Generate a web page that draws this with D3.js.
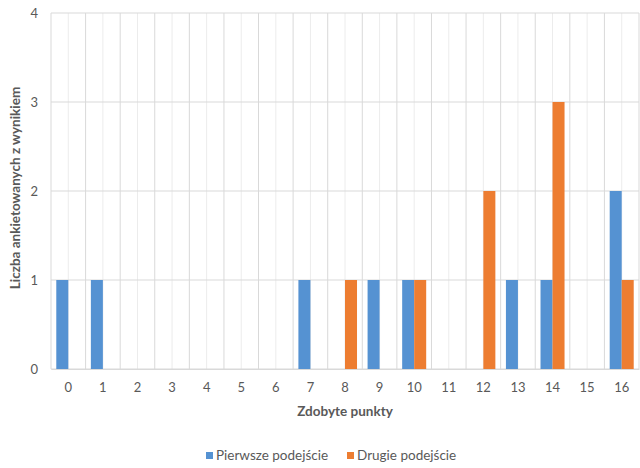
<!DOCTYPE html>
<html>
<head>
<meta charset="utf-8">
<script src="https://cdn.jsdelivr.net/npm/d3@7"></script>
<style>
  body { margin: 0; background: #fff; }
  svg { display: block; font-family: Lato, "Open Sans", sans-serif; }
</style>
</head>
<body>
<svg id="chart" width="640" height="468"></svg>
<script>
// chart data
const categories = ["0","1","2","3","4","5","6","7","8","9","10","11","12","13","14","15","16"];
const seriesNames = ["Pierwsze podejście", "Drugie podejście"];
const firstTry  = [1,1,0,0,0,0,0,1,0,1,1,0,0,1,1,0,2];
const secondTry = [0,0,0,0,0,0,0,0,1,0,1,0,2,0,3,0,1];
const yTicks = [0,1,2,3,4];
const colors = ["#5592d2", "#ed7d31"];

const svg = d3.select("#chart");
const width = 640, height = 468;
const margin = { left: 51, right: 1, top: 13, bottom: 99 };
const innerWidth = width - margin.left - margin.right;
const innerHeight = height - margin.top - margin.bottom;

const xScale = d3.scaleBand().domain(categories).range([0, innerWidth]).padding(0);
const subScale = d3.scaleBand().domain(seriesNames).range([0, xScale.bandwidth()])
                   .paddingInner(0).paddingOuter(0.44);
const yScale = d3.scaleLinear().domain([0, 4]).range([innerHeight, 0]);

const g = svg.append("g").attr("transform", `translate(${margin.left}, ${margin.top})`);

// minor vertical gridlines at category centres
g.selectAll("line.minor")
 .data(categories)
 .enter().append("line")
 .attr("class", "minor")
 .attr("x1", d => xScale(d) + xScale.bandwidth() / 2)
 .attr("x2", d => xScale(d) + xScale.bandwidth() / 2)
 .attr("y1", 0).attr("y2", innerHeight)
 .attr("stroke", "#ececec").attr("stroke-width", 1);

// major vertical gridlines at category boundaries
const bounds = categories.map(d => xScale(d)).concat([innerWidth]);
g.selectAll("line.major")
 .data(bounds)
 .enter().append("line")
 .attr("class", "major")
 .attr("x1", d => d).attr("x2", d => d)
 .attr("y1", 0).attr("y2", innerHeight)
 .attr("stroke", "#d9d9d9").attr("stroke-width", 1);

// horizontal gridlines
g.selectAll("line.hgrid")
 .data(yTicks)
 .enter().append("line")
 .attr("class", "hgrid")
 .attr("x1", 0).attr("x2", innerWidth)
 .attr("y1", d => yScale(d)).attr("y2", d => yScale(d))
 .attr("stroke", "#d9d9d9").attr("stroke-width", 1);

// bars
const rows = categories.map((c, i) => ({ cat: c, values: [firstTry[i], secondTry[i]] }));
const groups = g.selectAll("g.cat")
  .data(rows)
  .enter().append("g")
  .attr("class", "cat")
  .attr("transform", d => `translate(${xScale(d.cat)},0)`);

groups.selectAll("rect")
  .data(d => d.values.map((v, i) => ({ name: seriesNames[i], value: v, idx: i })))
  .enter().append("rect")
  .attr("x", d => subScale(d.name))
  .attr("width", subScale.bandwidth())
  .attr("y", d => yScale(d.value))
  .attr("height", d => innerHeight - yScale(d.value))
  .attr("fill", d => colors[d.idx]);

// axes
const xAxis = g.append("g")
  .attr("transform", `translate(0, ${innerHeight})`)
  .call(d3.axisBottom(xScale).tickSize(0).tickPadding(14))
  .attr("font-size", 13).attr("font-family", "Lato, sans-serif");
xAxis.select(".domain").attr("stroke", "#d9d9d9");
xAxis.selectAll("text").attr("fill", "#595959");

const yAxis = g.append("g")
  .call(d3.axisLeft(yScale).tickValues(yTicks).tickFormat(d3.format("d")).tickSize(0).tickPadding(13))
  .attr("font-size", 13).attr("font-family", "Lato, sans-serif");
yAxis.select(".domain").remove();
yAxis.selectAll("text").attr("fill", "#595959");

// axis titles
svg.append("text")
   .attr("x", margin.left + innerWidth / 2)
   .attr("y", 416)
   .attr("text-anchor", "middle")
   .attr("font-size", 13.5).attr("font-weight", "bold")
   .attr("fill", "#595959")
   .text("Zdobyte punkty");

svg.append("text")
   .attr("transform", `translate(20, ${margin.top + innerHeight / 2 - 3}) rotate(-90)`)
   .attr("text-anchor", "middle")
   .attr("font-size", 13.5).attr("font-weight", "bold")
   .attr("fill", "#595959")
   .text("Liczba ankietowanych z wynikiem");

// legend
const legend = svg.append("g").attr("transform", "translate(0, 460)");
const legendX = [206, 347];
seriesNames.forEach((name, i) => {
  legend.append("rect")
        .attr("x", legendX[i]).attr("y", -8)
        .attr("width", 7).attr("height", 7)
        .attr("fill", colors[i]);
  legend.append("text")
        .attr("x", legendX[i] + 10).attr("y", 0)
        .attr("font-size", 13.5).attr("fill", "#595959")
        .text(name);
});
</script>
</body>
</html>
